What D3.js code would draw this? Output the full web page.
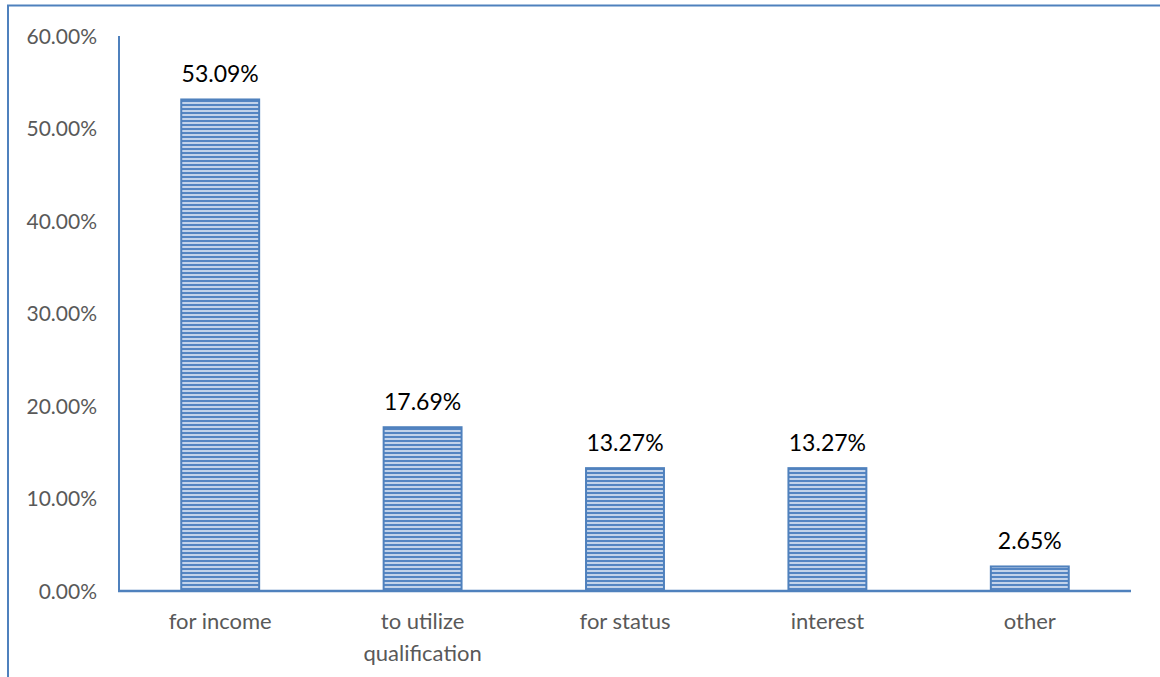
<!DOCTYPE html>
<html><head><meta charset="utf-8">
<script src="https://cdn.jsdelivr.net/npm/d3@7"></script>
<style>body{margin:0;background:#fff}svg{display:block}</style>
</head><body>
<svg id="c" width="1160" height="677"></svg>
<script>
const categories = ["for income", "to utilize\nqualification", "for status", "interest", "other"];
const values = [53.09, 17.69, 13.27, 13.27, 2.65];
const valueLabels = ["53.09%", "17.69%", "13.27%", "13.27%", "2.65%"];
const yTicks = [0, 10, 20, 30, 40, 50, 60];

const svg = d3.select("#c");
const font = "Lato, 'Open Sans', sans-serif";
const blue = "#4f81bd";

// outer frame (partial border)
svg.append("path").attr("d","M8,677 L8,5.5 L1160,5.5").attr("fill","none").attr("stroke",blue).attr("stroke-width",2);

// pattern
const defs = svg.append("defs");
const pat = defs.append("pattern").attr("id","hstripe").attr("patternUnits","userSpaceOnUse")
  .attr("width",8).attr("height",4);
pat.append("rect").attr("width",8).attr("height",4).attr("fill","#c2d3ea");
pat.append("rect").attr("y",0).attr("width",8).attr("height",2).attr("fill","#5485c2");

const x = d3.scaleBand().domain(categories).range([119, 1131]).paddingInner(0.615).paddingOuter(0.3075);
const y = d3.scaleLinear().domain([0, 60]).range([591, 35.5]);

// y axis line
svg.append("line").attr("x1",119).attr("x2",119).attr("y1",36).attr("y2",592).attr("stroke",blue).attr("stroke-width",2);

// y tick labels
svg.append("g").selectAll("text").data(yTicks).join("text")
  .attr("x",97).attr("y",d=>y(d)+8).attr("text-anchor","end")
  .attr("font-family",font).attr("font-size",21).attr("fill","#595959")
  .text(d=>d.toFixed(2)+"%");

// bars
svg.append("g").selectAll("rect").data(values).join("rect")
  .attr("x",(d,i)=>x(categories[i])).attr("width",x.bandwidth())
  .attr("y",d=>y(d)).attr("height",d=>y(0)-y(d))
  .attr("fill","url(#hstripe)").attr("stroke",blue).attr("stroke-width",2);

// x axis line
svg.append("line").attr("x1",118).attr("x2",1131).attr("y1",591).attr("y2",591).attr("stroke",blue).attr("stroke-width",2.5);

// value labels
svg.append("g").selectAll("text").data(values).join("text")
  .attr("x",(d,i)=>x(categories[i])+x.bandwidth()/2).attr("y",d=>y(d)-17)
  .attr("text-anchor","middle").attr("font-family",font).attr("font-size",23).attr("fill","#000")
  .text((d,i)=>valueLabels[i]);

// category labels
const cg = svg.append("g").selectAll("text").data(categories).join("text")
  .attr("x",d=>x(d)+x.bandwidth()/2).attr("y",629)
  .attr("text-anchor","middle").attr("font-family",font).attr("font-size",22).attr("fill","#595959");
cg.each(function(d){
  const lines = d.split("\n");
  const t = d3.select(this);
  lines.forEach((l,k)=>{
    t.append("tspan").attr("x",x(d)+x.bandwidth()/2).attr("y",629 + k*32).text(l);
  });
});
</script>
</body></html>
